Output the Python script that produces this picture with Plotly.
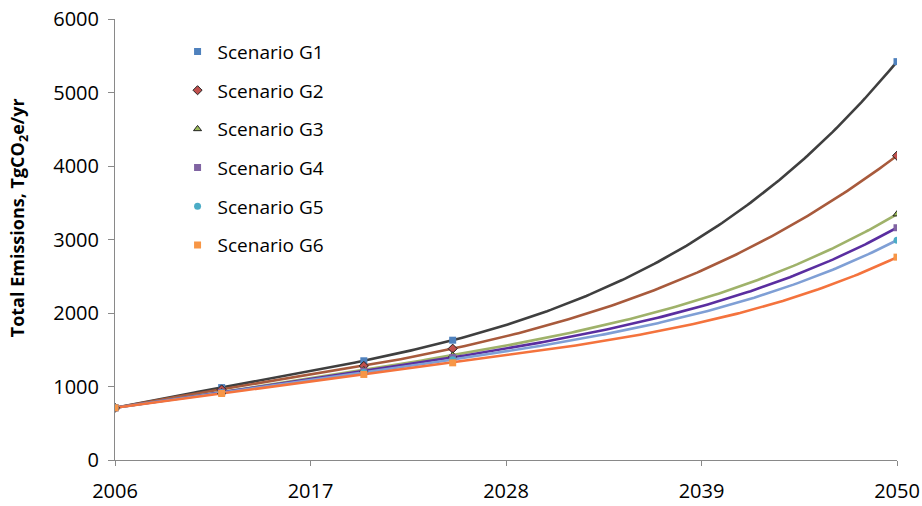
import numpy as np
import plotly.graph_objects as go

years = [2006, 2012, 2020, 2025, 2050]

names = ["Scenario G1", "Scenario G2", "Scenario G3", "Scenario G4", "Scenario G5", "Scenario G6"]
g1 = [710, 985, 1350, 1630, 5420]
g2 = [710, 960, 1280, 1515, 4140]
g3 = [710, 925, 1225, 1425, 3345]
g4 = [710, 920, 1208, 1395, 3160]
g5 = [710, 915, 1190, 1365, 2990]
g6 = [710, 905, 1164, 1322, 2760]
series = [g1, g2, g3, g4, g5, g6]

x_ticks = [2006, 2017, 2028, 2039, 2050]
y_ticks = [0, 1000, 2000, 3000, 4000, 5000, 6000]

line_colors = ["#3f3f3f", "#a85a3c", "#9fb26a", "#5a2ea0", "#7f9fd5", "#f4733d"]
marker_colors = ["#4f81bd", "#c0504d", "#9bbb59", "#8064a2", "#4bacc6", "#f79646"]
marker_symbols = ["square", "diamond", "triangle-up", "square", "circle", "square"]
marker_lines = [0, 1, 1, 0, 0, 0]

fig = go.Figure()

# polynomial (4th order) trendline for each scenario, fitted to its points
x_arr = np.array(years, dtype=float)
t_fine = np.linspace(x_arr.min(), x_arr.max(), 220)
for vals, lc in zip(series, line_colors):
    coef = np.polyfit(x_arr - 2006, np.array(vals, dtype=float), 4)
    trend = np.polyval(coef, t_fine - 2006)
    fig.add_trace(go.Scatter(
        x=t_fine, y=trend, mode="lines",
        line=dict(color=lc, width=2.6),
        showlegend=False, hoverinfo="skip",
    ))

# scenario points, shown in the legend as markers only
for i, (name, vals) in enumerate(zip(names, series)):
    fig.add_trace(go.Scatter(
        x=years, y=vals, mode="markers", name=name,
        legendgroup=name,
        marker=dict(symbol=marker_symbols[i], color=marker_colors[i],
                    size=7,
                    line=dict(color="#222222", width=marker_lines[i])),
    ))

fig.add_annotation(
    text="<b>Total Emissions, TgCO<sub>2</sub>e/yr</b>",
    textangle=-90, xref="paper", yref="paper",
    x=-0.123, y=0.55, xanchor="center", yanchor="middle",
    showarrow=False, font=dict(size=18, family="Open Sans", color="#000000"),
)

fig.update_layout(
    width=922, height=506,
    margin=dict(l=115, r=25, t=19, b=46),
    paper_bgcolor="white", plot_bgcolor="white",
    font=dict(family="Open Sans, sans-serif", size=20, color="#000000"),
    showlegend=True,
    legend=dict(
        x=0.08, y=0.969, xanchor="left", yanchor="top",
        bgcolor="rgba(0,0,0,0)", font=dict(size=19),
        tracegroupgap=11, itemwidth=30,
    ),
    xaxis=dict(
        range=[2006, 2050], tickvals=x_ticks, ticktext=[str(t) for t in x_ticks],
        showgrid=False, zeroline=False, showline=True, linecolor="#898989",
        linewidth=1, ticks="outside", ticklen=5, tickcolor="#898989",
        tickfont=dict(size=20), ticklabelstandoff=8, automargin=False,
    ),
    yaxis=dict(
        range=[0, 6000], tickvals=y_ticks,
        showgrid=False, zeroline=False, showline=True, linecolor="#898989",
        linewidth=1, ticks="outside", ticklen=6, tickcolor="#898989",
        tickfont=dict(size=20), ticklabelstandoff=5, automargin=False,
    ),
)

fig.write_html("out.html")
